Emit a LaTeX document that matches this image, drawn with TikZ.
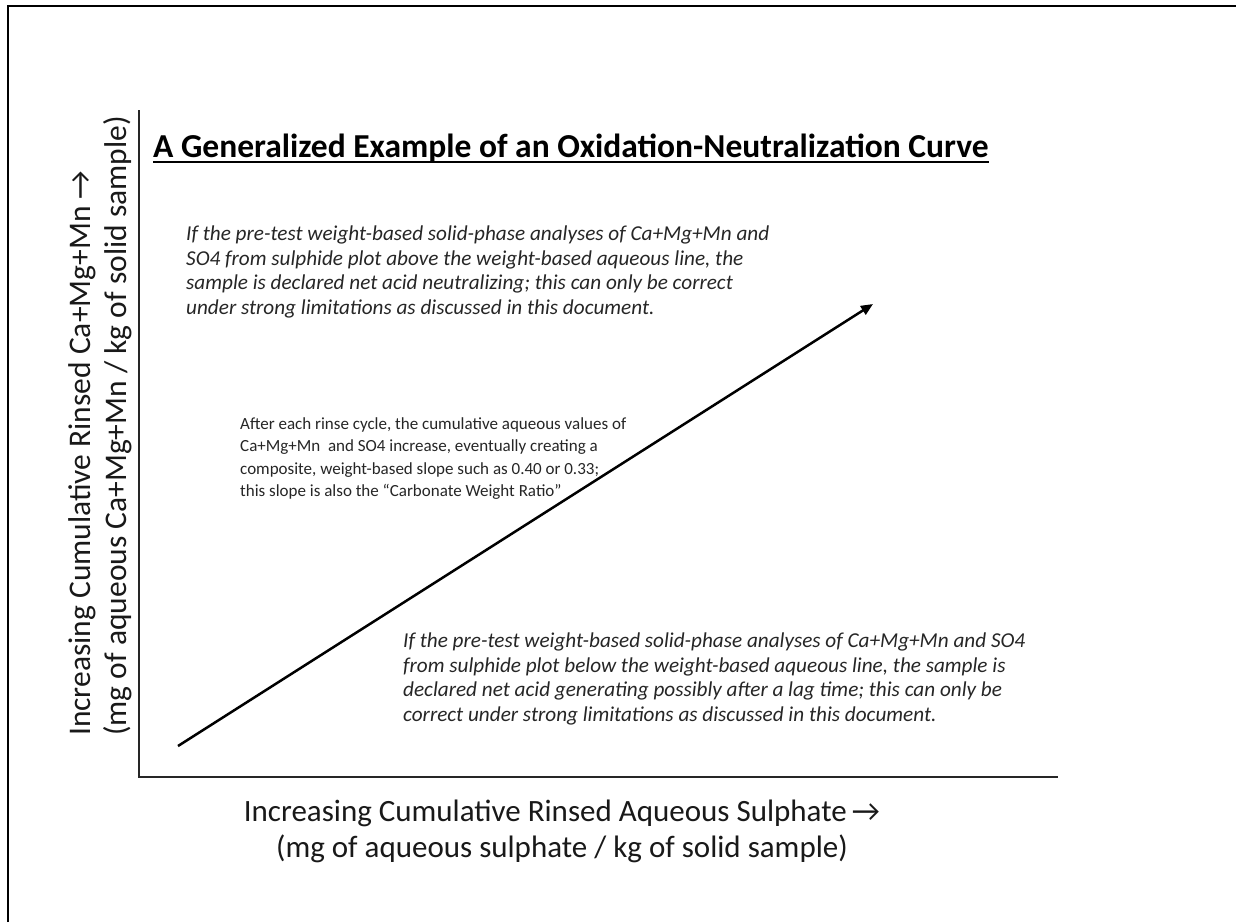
\documentclass[tikz,border=0pt]{standalone}
\usepackage{fontspec}
\setmainfont{Carlito}
\usetikzlibrary{arrows.meta,calc}
\begin{document}
\begin{tikzpicture}[x=1pt,y=-1pt,
  axisline/.style={line width=1.4pt,black!85},
  bigtext/.style={inner sep=0pt,align=left,text=black!85,font=\itshape\fontsize{21.2}{24.4}\selectfont},
  midtext/.style={inner sep=0pt,align=left,text=black!85,font=\fontsize{17}{22.5}\selectfont},
  labeltext/.style={inner sep=0pt,text=black!90,font=\fontsize{31}{36}\selectfont}]
\useasboundingbox (0,0) rectangle (1236,922);
\fill[white] (0,0) rectangle (1236,922);
% frame
\draw[line width=2pt] (8,922) -- (8,6) -- (1236,6);
% axes
\coordinate (ytop) at (139,110);
\coordinate (O) at (139,777);
\coordinate (xend) at (1058,777);
\draw[axisline] (ytop) -- (O) -- (xend);
% curve arrow
\coordinate (s) at (178,746);
\coordinate (e) at (873,304);
\draw[line width=2.5pt,-{Triangle[length=12pt,width=10pt]}] (s) -- (e);
% title
\node[anchor=base west,inner sep=0pt,font=\bfseries\fontsize{33.5}{40}\selectfont] (title) at (153,157)
  {A Generalized Example of an Oxidation-Neutralization Curve};
\draw[line width=2.4pt] ($(title.base west)+(0,5)$) -- ($(title.base east)+(0,5)$);
% upper note
\node[bigtext,anchor=north west] (up) at (186,226)
  {If the pre-test weight-based solid-phase analyses of Ca+Mg+Mn and\\
   SO4 from sulphide plot above the weight-based aqueous line, the\\
   sample is declared net acid neutralizing; this can only be correct\\
   under strong limitations as discussed in this document.};
% middle note
\node[midtext,anchor=north west] (mid) at (240,417)
  {After each rinse cycle, the cumulative aqueous values of\\
   Ca+Mg+Mn\ \ and SO4 increase, eventually creating a\\
   composite, weight-based slope such as 0.40 or 0.33;\\
   this slope is also the \textquotedblleft Carbonate Weight Ratio\textquotedblright};
% lower note
\node[bigtext,anchor=north west] (low) at (403,633)
  {If the pre-test weight-based solid-phase analyses of Ca+Mg+Mn and SO4\\
   from sulphide plot below the weight-based aqueous line, the sample is\\
   declared net acid generating possibly after a lag time; this can only be\\
   correct under strong limitations as discussed in this document.};
% x label
\node[labeltext,align=center] (xlab) at (562,831)
  {Increasing Cumulative Rinsed Aqueous Sulphate\,\textrightarrow\\
   (mg of aqueous sulphate / kg of solid sample)};
% y label
\node[labeltext,font=\fontsize{31.5}{36}\selectfont,align=left,rotate=90,anchor=west] (ylab) at (100,736)
  {Increasing Cumulative Rinsed Ca+Mg+Mn\ \textrightarrow\\
   (mg of aqueous Ca+Mg+Mn / kg of solid sample)};
\end{tikzpicture}
\end{document}
